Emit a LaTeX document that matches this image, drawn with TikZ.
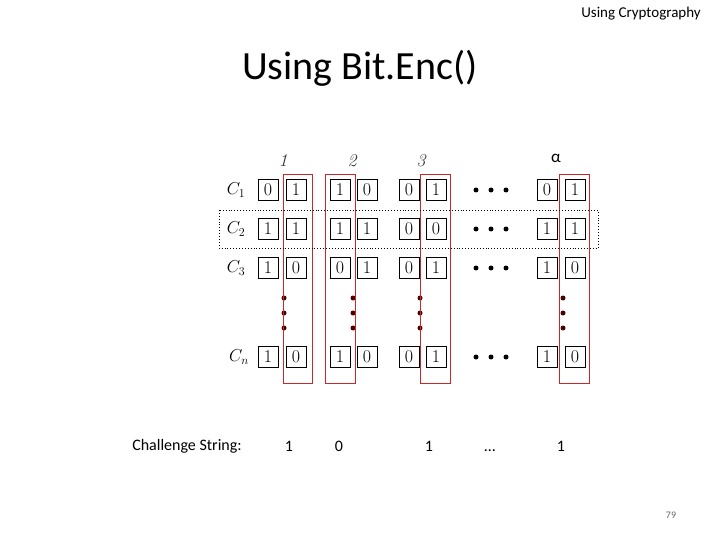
\documentclass[tikz,border=0pt]{standalone}
\usepackage{fontspec}
\newfontfamily\carl{Carlito}
\definecolor{rbx}{RGB}{200,40,40}
\begin{document}
\begin{tikzpicture}[x=1pt,y=-1pt,
  bit/.style={draw,line width=0.9pt,minimum width=20pt,minimum height=21pt,inner sep=0pt,font=\fontsize{18}{18}\selectfont},
  redbox/.style={draw=rbx,line width=1pt},
  dot/.style={circle,fill=black,inner sep=0pt,minimum size=5pt},
  vdot/.style={circle,fill=black!70!red,inner sep=0pt,minimum size=5pt},
  clab/.style={font=\fontsize{18}{18}\selectfont},
  cs/.style={font=\carl\fontsize{16}{16}\selectfont}]
\useasboundingbox (0,0) rectangle (720,540);
\node[font=\carl\fontsize{15}{15}\selectfont] (hdr) at (641,14) {Using Cryptography};
\node[font=\carl\fontsize{40}{40}\selectfont] (title) at (360,68) {Using Bit.Enc()};
\node[font=\carl\fontsize{10}{10}\selectfont,text=black!60] (pg) at (671,515) {79};
\foreach \n/\x in {1/283,2/352,3/421}
  \node[font=\itshape\fontsize{18}{18}\selectfont,text=black!80] (h\n) at (\x,161) {\n};
\node[font=\carl\fontsize{17}{17}\selectfont] (ha) at (556,158) {α};
\node[clab] (l1) at (236,190) {$C_1$};
\node[clab] (l2) at (236,229) {$C_2$};
\node[clab] (l3) at (236,268) {$C_3$};
\node[clab] (ln) at (239,357) {$C_n$};
\foreach \r/\y/\a/\b/\c/\d/\e/\f/\g/\h in {1/190/0/1/1/0/0/1/0/1, 2/229/1/1/1/1/0/0/1/1, 3/268/1/0/0/1/0/1/1/0, n/357/1/0/1/0/0/1/1/0}{
  \node[bit] (a\r) at (268,\y) {\a};
  \node[bit] (b\r) at (296,\y) {\b};
  \node[bit] (c\r) at (340,\y) {\c};
  \node[bit] (d\r) at (367,\y) {\d};
  \node[bit] (e\r) at (409,\y) {\e};
  \node[bit] (f\r) at (436,\y) {\f};
  \node[bit] (g\r) at (547,\y) {\g};
  \node[bit] (h\r) at (575,\y) {\h};
  \foreach \xx in {476,491,506} \node[dot] at (\xx,\y) {};
}
\foreach \xx in {284,353,420,563} \foreach \yy in {298,313,328} \node[vdot] at (\xx,\yy) {};
\draw[redbox] (283,175) rectangle (312,383);
\draw[redbox] (325,175) rectangle (355,383);
\draw[redbox] (420,175) rectangle (450,383);
\draw[redbox] (559,175) rectangle (589,383);
\draw[dotted,line width=0.9pt] (219,210) rectangle (598,248);
\node[cs] (chs) at (187,446) {Challenge String:};
\node[cs] (v1) at (289,446) {1};
\node[cs] (v2) at (339,446) {0};
\node[cs] (v3) at (429,446) {1};
\node[cs,anchor=base] (v4) at (490,451) {…};
\node[cs] (v5) at (561,446) {1};
\end{tikzpicture}
\end{document}
